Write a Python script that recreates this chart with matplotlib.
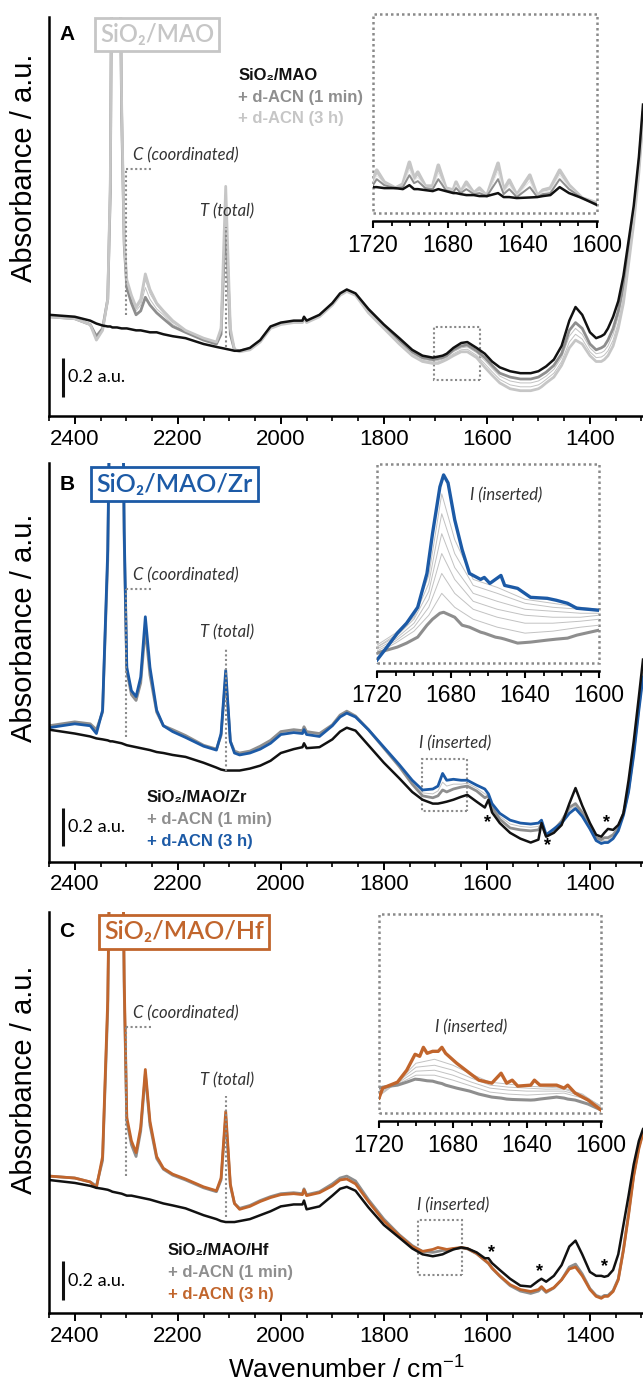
import matplotlib
matplotlib.use('Agg')
import matplotlib.pyplot as plt
from matplotlib.patches import Rectangle
from matplotlib.ticker import MultipleLocator

plt.rcParams['font.family'] = ['Liberation Sans', 'DejaVu Sans']
plt.rcParams['mathtext.default'] = 'regular'

# ---- main spectra: shared wavenumber grid (cm-1) ----
WN = [2450, 2400, 2370, 2358, 2346, 2336, 2331, 2327, 2318, 2309,
      2304, 2299, 2290, 2281, 2272, 2263, 2254, 2241, 2228, 2210,
      2185, 2150, 2125, 2116, 2107, 2098, 2090, 2080, 2060, 2040,
      2020, 2000, 1975, 1958, 1955, 1950, 1925, 1900, 1885, 1872,
      1855, 1830, 1800, 1770, 1745, 1725, 1705, 1695, 1686, 1678,
      1665, 1650, 1638, 1620, 1604, 1597, 1590, 1575, 1555, 1535,
      1515, 1500, 1494, 1485, 1470, 1455, 1440, 1428, 1415, 1400,
      1388, 1378, 1372, 1365, 1355, 1345, 1335, 1325, 1315, 1305, 1297]

# panel A: SiO2/MAO
A_SUPPORT = [0.52, 0.51, 0.49, 0.475, 0.465, 0.46, 0.46, 0.455, 0.455, 0.45,
             0.45, 0.45, 0.445, 0.44, 0.44, 0.435, 0.43, 0.43, 0.42, 0.41,
             0.40, 0.37, 0.355, 0.35, 0.345, 0.34, 0.335, 0.335, 0.35, 0.39,
             0.46, 0.48, 0.49, 0.49, 0.51, 0.49, 0.52, 0.58, 0.63, 0.65,
             0.63, 0.55, 0.47, 0.40, 0.34, 0.31, 0.30, 0.305, 0.31, 0.32,
             0.35, 0.375, 0.38, 0.35, 0.32, 0.30, 0.28, 0.25, 0.23, 0.22,
             0.22, 0.23, 0.24, 0.255, 0.29, 0.36, 0.49, 0.56, 0.52, 0.43,
             0.40, 0.41, 0.42, 0.45, 0.51, 0.59, 0.72, 0.90, 1.08, 1.33, 1.60]
A_1MIN = [0.51, 0.50, 0.47, 0.41, 0.45, 0.60, 1.15, 2.90, 3.90, 1.55,
          0.88, 0.66, 0.58, 0.52, 0.54, 0.61, 0.57, 0.53, 0.50, 0.46,
          0.43, 0.39, 0.37, 0.42, 1.02, 0.42, 0.34, 0.335, 0.345, 0.385,
          0.455, 0.475, 0.485, 0.485, 0.505, 0.485, 0.515, 0.575, 0.625, 0.645,
          0.625, 0.545, 0.465, 0.39, 0.33, 0.30, 0.29, 0.295, 0.30, 0.31,
          0.34, 0.36, 0.365, 0.335, 0.30, 0.28, 0.26, 0.22, 0.20, 0.19,
          0.19, 0.20, 0.21, 0.225, 0.26, 0.32, 0.44, 0.48, 0.45, 0.37,
          0.34, 0.35, 0.36, 0.39, 0.45, 0.54, 0.67, 0.86, 1.04, 1.29, 1.56]
A_MID1 = [0.51, 0.50, 0.47, 0.40, 0.445, 0.60, 1.17, 2.95, 3.95, 1.57,
          0.89, 0.68, 0.60, 0.54, 0.57, 0.66, 0.60, 0.55, 0.52, 0.47,
          0.435, 0.395, 0.375, 0.43, 1.10, 0.43, 0.34, 0.333, 0.343, 0.383,
          0.452, 0.472, 0.482, 0.482, 0.502, 0.482, 0.512, 0.572, 0.622, 0.642,
          0.622, 0.54, 0.46, 0.385, 0.322, 0.292, 0.282, 0.285, 0.292, 0.302,
          0.33, 0.35, 0.355, 0.325, 0.285, 0.265, 0.245, 0.205, 0.18, 0.17,
          0.17, 0.18, 0.19, 0.205, 0.24, 0.30, 0.41, 0.45, 0.42, 0.35,
          0.32, 0.325, 0.335, 0.36, 0.42, 0.51, 0.64, 0.83, 1.02, 1.27, 1.55]
A_MID2 = [0.51, 0.50, 0.47, 0.39, 0.44, 0.60, 1.18, 2.98, 3.98, 1.58,
          0.90, 0.69, 0.61, 0.55, 0.585, 0.70, 0.63, 0.57, 0.53, 0.48,
          0.44, 0.40, 0.38, 0.44, 1.15, 0.44, 0.34, 0.332, 0.341, 0.381,
          0.451, 0.471, 0.481, 0.481, 0.501, 0.481, 0.511, 0.571, 0.621, 0.641,
          0.621, 0.535, 0.455, 0.378, 0.316, 0.286, 0.276, 0.278, 0.286, 0.296,
          0.32, 0.34, 0.343, 0.312, 0.268, 0.248, 0.228, 0.188, 0.16, 0.15,
          0.15, 0.16, 0.17, 0.188, 0.22, 0.28, 0.38, 0.42, 0.395, 0.33,
          0.30, 0.303, 0.313, 0.335, 0.39, 0.48, 0.61, 0.80, 1.01, 1.26, 1.54]
A_3H = [0.51, 0.50, 0.47, 0.39, 0.44, 0.60, 1.20, 3.00, 4.00, 1.60,
        0.90, 0.70, 0.62, 0.56, 0.60, 0.73, 0.65, 0.58, 0.54, 0.49,
        0.44, 0.40, 0.38, 0.45, 1.18, 0.45, 0.34, 0.33, 0.34, 0.38,
        0.45, 0.47, 0.48, 0.48, 0.50, 0.48, 0.51, 0.57, 0.62, 0.64,
        0.62, 0.53, 0.45, 0.37, 0.31, 0.28, 0.27, 0.27, 0.28, 0.29,
        0.31, 0.33, 0.33, 0.30, 0.25, 0.23, 0.21, 0.17, 0.14, 0.13,
        0.13, 0.14, 0.15, 0.17, 0.20, 0.26, 0.35, 0.39, 0.37, 0.31,
        0.28, 0.28, 0.29, 0.31, 0.36, 0.45, 0.58, 0.78, 0.99, 1.25, 1.52]

# panel B: SiO2/MAO/Zr
B_SUPPORT = [0.68, 0.66, 0.645, 0.635, 0.63, 0.625, 0.62, 0.62, 0.615, 0.61,
             0.605, 0.60, 0.595, 0.59, 0.585, 0.58, 0.575, 0.565, 0.56, 0.55,
             0.54, 0.51, 0.485, 0.475, 0.47, 0.47, 0.47, 0.47, 0.48, 0.495,
             0.52, 0.56, 0.58, 0.59, 0.61, 0.585, 0.59, 0.63, 0.67, 0.69,
             0.675, 0.60, 0.51, 0.43, 0.36, 0.32, 0.30, 0.30, 0.305, 0.31,
             0.32, 0.335, 0.345, 0.31, 0.28, 0.32, 0.255, 0.20, 0.15, 0.12,
             0.10, 0.115, 0.20, 0.13, 0.15, 0.19, 0.30, 0.38, 0.29, 0.20,
             0.14, 0.13, 0.15, 0.17, 0.165, 0.19, 0.25, 0.42, 0.62, 0.85, 1.04]
B_1MIN = [0.70, 0.72, 0.71, 0.68, 0.77, 1.55, 2.55, 3.45, 4.90, 2.95,
          1.65, 0.98, 0.86, 0.83, 0.92, 1.20, 0.96, 0.77, 0.70, 0.68,
          0.65, 0.60, 0.58, 0.65, 0.95, 0.62, 0.57, 0.56, 0.57, 0.595,
          0.625, 0.67, 0.68, 0.675, 0.695, 0.67, 0.66, 0.705, 0.755, 0.775,
          0.75, 0.68, 0.585, 0.49, 0.40, 0.34, 0.33, 0.34, 0.37, 0.36,
          0.375, 0.385, 0.39, 0.365, 0.33, 0.34, 0.28, 0.22, 0.175, 0.165,
          0.16, 0.165, 0.19, 0.135, 0.165, 0.21, 0.28, 0.30, 0.255, 0.18,
          0.125, 0.115, 0.125, 0.125, 0.14, 0.175, 0.25, 0.37, 0.57, 0.80, 0.97]
B_MID = [0.695, 0.715, 0.705, 0.67, 0.775, 1.57, 2.57, 3.47, 4.95, 2.97,
         1.67, 0.99, 0.87, 0.84, 0.935, 1.23, 0.98, 0.775, 0.70, 0.675,
         0.645, 0.598, 0.578, 0.655, 0.97, 0.62, 0.565, 0.555, 0.565, 0.588,
         0.618, 0.663, 0.673, 0.668, 0.688, 0.663, 0.655, 0.698, 0.75, 0.77,
         0.748, 0.68, 0.588, 0.495, 0.41, 0.355, 0.35, 0.365, 0.41, 0.39,
         0.40, 0.40, 0.405, 0.38, 0.35, 0.345, 0.29, 0.235, 0.195, 0.183,
         0.178, 0.183, 0.20, 0.138, 0.168, 0.205, 0.265, 0.288, 0.245, 0.175,
         0.118, 0.105, 0.112, 0.112, 0.13, 0.168, 0.245, 0.365, 0.56, 0.79, 0.96]
B_3H = [0.69, 0.71, 0.70, 0.66, 0.78, 1.60, 2.60, 3.50, 5.00, 3.00,
        1.70, 1.00, 0.88, 0.85, 0.95, 1.26, 1.00, 0.78, 0.70, 0.67,
        0.64, 0.595, 0.575, 0.66, 0.985, 0.62, 0.56, 0.55, 0.56, 0.58,
        0.61, 0.655, 0.665, 0.66, 0.68, 0.655, 0.645, 0.70, 0.745, 0.765,
        0.745, 0.68, 0.59, 0.50, 0.42, 0.37, 0.375, 0.39, 0.455, 0.42,
        0.425, 0.42, 0.42, 0.395, 0.375, 0.35, 0.30, 0.25, 0.215, 0.20,
        0.195, 0.20, 0.215, 0.14, 0.17, 0.20, 0.25, 0.275, 0.235, 0.17,
        0.11, 0.095, 0.10, 0.10, 0.12, 0.16, 0.24, 0.36, 0.55, 0.78, 0.95]

# panel C: SiO2/MAO/Hf
C_SUPPORT = [0.68, 0.665, 0.65, 0.64, 0.635, 0.63, 0.625, 0.62, 0.615, 0.61,
             0.605, 0.60, 0.60, 0.595, 0.59, 0.585, 0.58, 0.57, 0.56, 0.55,
             0.535, 0.50, 0.48, 0.47, 0.465, 0.465, 0.465, 0.47, 0.48, 0.50,
             0.52, 0.545, 0.555, 0.555, 0.575, 0.53, 0.545, 0.60, 0.635, 0.645,
             0.625, 0.54, 0.45, 0.385, 0.33, 0.30, 0.29, 0.295, 0.30, 0.31,
             0.325, 0.335, 0.33, 0.31, 0.28, 0.28, 0.255, 0.22, 0.175, 0.14,
             0.135, 0.165, 0.175, 0.16, 0.19, 0.245, 0.34, 0.37, 0.30, 0.21,
             0.19, 0.19, 0.185, 0.19, 0.22, 0.30, 0.45, 0.60, 0.76, 0.88, 0.94]
C_1MIN = [0.70, 0.69, 0.67, 0.65, 0.78, 1.55, 2.55, 3.45, 4.90, 2.95,
          1.65, 0.98, 0.86, 0.80, 0.93, 1.22, 0.96, 0.79, 0.735, 0.705,
          0.68, 0.64, 0.62, 0.68, 1.00, 0.65, 0.56, 0.535, 0.55, 0.575,
          0.595, 0.61, 0.615, 0.61, 0.635, 0.605, 0.62, 0.66, 0.69, 0.70,
          0.675, 0.58, 0.48, 0.40, 0.345, 0.315, 0.31, 0.315, 0.32, 0.32,
          0.328, 0.333, 0.328, 0.303, 0.268, 0.253, 0.228, 0.188, 0.14, 0.112,
          0.10, 0.112, 0.128, 0.105, 0.128, 0.17, 0.235, 0.25, 0.20, 0.125,
          0.09, 0.08, 0.09, 0.09, 0.115, 0.175, 0.325, 0.51, 0.71, 0.85, 0.925]
C_3H = [0.70, 0.69, 0.67, 0.64, 0.80, 1.60, 2.60, 3.50, 5.00, 3.00,
        1.70, 1.00, 0.88, 0.82, 0.95, 1.245, 0.98, 0.80, 0.74, 0.71,
        0.685, 0.645, 0.625, 0.69, 1.03, 0.66, 0.56, 0.53, 0.545, 0.57,
        0.59, 0.605, 0.61, 0.605, 0.63, 0.60, 0.615, 0.65, 0.68, 0.685,
        0.66, 0.57, 0.47, 0.395, 0.34, 0.315, 0.325, 0.335, 0.33, 0.325,
        0.33, 0.335, 0.33, 0.305, 0.27, 0.255, 0.23, 0.19, 0.145, 0.12,
        0.11, 0.12, 0.135, 0.11, 0.13, 0.17, 0.225, 0.235, 0.19, 0.12,
        0.085, 0.075, 0.085, 0.085, 0.11, 0.17, 0.32, 0.50, 0.70, 0.84, 0.92]

# ---- insets (1720-1600 cm-1) ----
IA_WN = [1720, 1718, 1714, 1708, 1704, 1700.5, 1698, 1696, 1692, 1688,
         1685, 1681, 1677, 1675.5, 1673, 1670, 1666, 1663, 1659, 1653,
         1650, 1647, 1643, 1636, 1632, 1629, 1625, 1620, 1615, 1608, 1600]
IA_SUPPORT = [0.13, 0.13, 0.125, 0.125, 0.12, 0.14, 0.12, 0.12, 0.115, 0.11,
              0.12, 0.11, 0.10, 0.10, 0.095, 0.09, 0.09, 0.085, 0.085, 0.10,
              0.08, 0.08, 0.075, 0.078, 0.08, 0.085, 0.09, 0.13, 0.10, 0.075, 0.04]
IA_1MIN = [0.14, 0.17, 0.14, 0.125, 0.13, 0.19, 0.15, 0.16, 0.125, 0.12,
           0.17, 0.115, 0.105, 0.125, 0.10, 0.12, 0.095, 0.10, 0.085, 0.17,
           0.095, 0.12, 0.08, 0.13, 0.08, 0.095, 0.10, 0.17, 0.12, 0.075, 0.045]
IA_MID = [0.15, 0.19, 0.145, 0.125, 0.135, 0.22, 0.16, 0.18, 0.13, 0.125,
          0.20, 0.12, 0.11, 0.14, 0.10, 0.135, 0.097, 0.11, 0.085, 0.21,
          0.105, 0.14, 0.085, 0.16, 0.082, 0.105, 0.11, 0.19, 0.13, 0.075, 0.048]
IA_3H = [0.165, 0.215, 0.155, 0.125, 0.145, 0.255, 0.175, 0.205, 0.135, 0.135,
         0.24, 0.125, 0.115, 0.155, 0.105, 0.155, 0.10, 0.125, 0.085, 0.25,
         0.115, 0.165, 0.09, 0.19, 0.085, 0.115, 0.125, 0.215, 0.14, 0.075, 0.05]

IB_WN = [1720, 1714.6, 1709, 1704, 1698, 1693, 1690, 1686, 1684, 1681.6,
         1678, 1674, 1670, 1664, 1662, 1659, 1656, 1653, 1651, 1644,
         1637, 1628, 1623, 1617, 1612, 1600]
IB_1MIN = [0.05, 0.065, 0.08, 0.10, 0.13, 0.19, 0.22, 0.25, 0.255, 0.245,
           0.23, 0.19, 0.18, 0.155, 0.15, 0.14, 0.13, 0.125, 0.12, 0.10,
           0.105, 0.115, 0.12, 0.125, 0.14, 0.165]
IB_3H = [0.015, 0.08, 0.15, 0.20, 0.28, 0.45, 0.65, 0.885, 0.945, 0.905,
         0.72, 0.57, 0.45, 0.42, 0.43, 0.40, 0.42, 0.44, 0.39, 0.375,
         0.33, 0.325, 0.315, 0.30, 0.275, 0.265]
IB_MID_WN = [1720, 1710, 1700, 1692, 1685, 1678, 1668, 1655, 1640, 1625, 1610, 1600]
IB_MIDS = [
    [0.05, 0.10, 0.16, 0.24, 0.35, 0.28, 0.22, 0.18, 0.15, 0.16, 0.18, 0.19],
    [0.06, 0.11, 0.18, 0.28, 0.45, 0.35, 0.27, 0.23, 0.20, 0.20, 0.21, 0.22],
    [0.07, 0.12, 0.20, 0.32, 0.55, 0.42, 0.31, 0.27, 0.24, 0.23, 0.23, 0.24],
    [0.08, 0.13, 0.22, 0.36, 0.65, 0.48, 0.35, 0.31, 0.27, 0.26, 0.25, 0.25],
    [0.08, 0.14, 0.23, 0.40, 0.75, 0.55, 0.39, 0.35, 0.30, 0.28, 0.27, 0.26],
    [0.09, 0.15, 0.24, 0.44, 0.85, 0.62, 0.42, 0.38, 0.32, 0.30, 0.28, 0.27],
]

IC_WN = [1720, 1718, 1710, 1705, 1700.5, 1698, 1696, 1694, 1691, 1688,
         1686, 1684, 1678, 1671, 1666, 1659, 1654, 1651, 1648, 1645,
         1638, 1636, 1633, 1624, 1620, 1618, 1614, 1607, 1600]
IC_1MIN = [0.125, 0.13, 0.14, 0.155, 0.17, 0.168, 0.165, 0.162, 0.16, 0.152,
           0.148, 0.14, 0.125, 0.11, 0.095, 0.08, 0.075, 0.07, 0.068, 0.067,
           0.065, 0.066, 0.07, 0.08, 0.075, 0.07, 0.065, 0.045, 0.015]
IC_3H = [0.075, 0.125, 0.155, 0.215, 0.295, 0.285, 0.33, 0.30, 0.31, 0.31,
         0.33, 0.30, 0.25, 0.20, 0.165, 0.15, 0.20, 0.15, 0.165, 0.135,
         0.14, 0.165, 0.14, 0.14, 0.125, 0.14, 0.10, 0.065, 0.015]
IC_MID_WN = [1720, 1710, 1700, 1690, 1680, 1670, 1660, 1650, 1640, 1630, 1620, 1610, 1600]
IC_MIDS = [
    [0.11, 0.145, 0.19, 0.19, 0.165, 0.135, 0.105, 0.095, 0.09, 0.095, 0.10, 0.075, 0.03],
    [0.10, 0.15, 0.21, 0.215, 0.19, 0.155, 0.125, 0.115, 0.11, 0.11, 0.11, 0.085, 0.035],
    [0.09, 0.155, 0.23, 0.24, 0.215, 0.175, 0.14, 0.13, 0.125, 0.12, 0.12, 0.09, 0.035],
    [0.085, 0.155, 0.25, 0.27, 0.24, 0.195, 0.155, 0.145, 0.135, 0.13, 0.125, 0.095, 0.03],
]

INSET_TICKS = [1720, 1680, 1640, 1600]
LEGEND_LINES = ['+ d-ACN (1 min)', '+ d-ACN (3 h)']

# ---- styling ----
W, H = 643, 1385
BLACK = '#111111'
GRAY_1MIN = '#8e8e8e'
GRAY_LIGHT = '#c6c6c6'
GRAY_THIN = '#c2c2c2'
BLUE = '#1c5aa6'
ORANGE = '#c1652c'
DOT = '#8a8a8a'
DOTTED = (0, (1, 1.2))
ITALIC = ['Lato', 'DejaVu Sans']


def px_rect(x0, y0, x1, y1):
    """Figure-fraction rect from pixel box (top-left origin)."""
    return [x0 / W, 1 - y1 / H, (x1 - x0) / W, (y1 - y0) / H]


def style_main(ax):
    ax.set_xlim(2450, 1297)
    ax.set_ylim(0, 2.05)
    ax.set_yticks([])
    for side in ('top', 'right'):
        ax.spines[side].set_visible(False)
    for side in ('left', 'bottom'):
        ax.spines[side].set_linewidth(1.8)
    ax.xaxis.set_major_locator(MultipleLocator(200))
    ax.xaxis.set_minor_locator(MultipleLocator(50))
    ax.tick_params(axis='x', which='major', direction='out', length=6,
                   width=1.4, labelsize=16, pad=3)
    ax.tick_params(axis='x', which='minor', direction='out', length=3.5,
                   width=1.2)
    ax.patch.set_alpha(0)


def draw_main(ax, support, one_min, three_h, mids, col3h):
    for m in mids:
        ax.plot(WN, m, color=GRAY_THIN, lw=0.7)
    ax.plot(WN, one_min, color=GRAY_1MIN, lw=2.0)
    ax.plot(WN, three_h, color=col3h, lw=2.0)
    ax.plot(WN, support, color=BLACK, lw=1.8)


def annotate(ax, c_y, c_low, t_y, t_low):
    """C (coordinated) and T (total) markers."""
    ax.plot([2301, 2301], [c_low, c_y], color=DOT, lw=1.5, ls=DOTTED)
    ax.plot([2301, 2252], [c_y, c_y], color=DOT, lw=1.5, ls=DOTTED)
    ax.text(2185, c_y + 0.07, 'C (coordinated)', style='italic', family=ITALIC,
            fontsize=12, color='#333333', ha='center', va='center')
    ax.plot([2107, 2107], [t_low, t_y], color=DOT, lw=1.5, ls=DOTTED)
    ax.text(2105, t_y + 0.08, 'T (total)', style='italic', family=ITALIC,
            fontsize=12, color='#333333', ha='center', va='center')


def header(ax, letter, name, col, cx, y, size):
    ax.text(2415, y, letter, fontsize=15, fontweight='bold', ha='center',
            va='center')
    ax.text(cx, y, name, fontsize=size, color=col, ha='center', va='center',
            family=['Lato', 'DejaVu Sans'], fontweight='semibold', zorder=10,
            bbox=dict(boxstyle='square,pad=0.22', fc='white', ec=col, lw=2.0))


def legend(ax, x, y0, name, col3h):
    cols = [BLACK, GRAY_1MIN, col3h]
    for i, (txt, c) in enumerate(zip([name] + LEGEND_LINES, cols)):
        ax.text(x, y0 - i * 0.112, txt, color=c, fontsize=12, fontweight='bold',
                ha='left', va='center')


def scale_bar(ax, y0):
    ax.plot([2423, 2423], [y0, y0 + 0.2], color=BLACK, lw=2.2,
            solid_capstyle='butt')
    ax.text(2414, y0 + 0.1, '0.2 a.u.', fontsize=13, family=ITALIC,
            ha='left', va='center')


def inserted_box(ax, x0, x1, y0, y1, label_x, label_y):
    ax.add_patch(Rectangle((x1, y0), x0 - x1, y1 - y0, fill=False, ec=DOT,
                           lw=1.5, ls=DOTTED))
    if label_y is not None:
        ax.text(label_x, label_y, 'I (inserted)', style='italic',
                family=ITALIC, fontsize=12, color='#333333', ha='center',
                va='center')


def make_inset(fig, rect):
    ins = fig.add_axes(rect)
    ins.set_xlim(1720, 1600)
    ins.set_ylim(0, 1)
    ins.set_yticks([])
    for side in ('top', 'right', 'left'):
        ins.spines[side].set_visible(False)
    ins.spines['bottom'].set_position(('outward', 6))
    ins.spines['bottom'].set_linewidth(1.8)
    ins.set_xticks(INSET_TICKS)
    ins.xaxis.set_minor_locator(MultipleLocator(10))
    ins.tick_params(axis='x', which='major', direction='out', length=5,
                    width=1.5, labelsize=16.5, pad=4)
    ins.tick_params(axis='x', which='minor', direction='out', length=3.5,
                    width=1.3)
    ins.add_patch(Rectangle((0, 0), 1, 1, transform=ins.transAxes, fill=False,
                            ec=DOT, lw=1.8, ls=DOTTED, clip_on=False))
    ins.patch.set_alpha(0)
    return ins


fig = plt.figure(figsize=(W / 100, H / 100), dpi=100)

# ---------------- panel A ----------------
axA = fig.add_axes(px_rect(49, 17, 643, 416))
style_main(axA)
draw_main(axA, A_SUPPORT, A_1MIN, A_3H, [A_MID1, A_MID2], GRAY_LIGHT)
annotate(axA, 1.27, 0.52, 0.97, 0.355)
header(axA, 'A', 'SiO₂/MAO', GRAY_LIGHT, 2240, 1.96, 17)
legend(axA, 2083, 1.75, 'SiO₂/MAO', GRAY_LIGHT)
scale_bar(axA, 0.10)
inserted_box(axA, 1702, 1614, 0.185, 0.455, None, None)

insA = make_inset(fig, px_rect(373, 14, 597, 213))
insA.plot(IA_WN, IA_3H, color=GRAY_LIGHT, lw=2.6)
insA.plot(IA_WN, IA_MID, color='#e6e6e6', lw=0.7)
insA.plot(IA_WN, IA_1MIN, color=GRAY_1MIN, lw=1.4)
insA.plot(IA_WN, IA_SUPPORT, color=BLACK, lw=1.8)

# ---------------- panel B ----------------
axB = fig.add_axes(px_rect(49, 463, 643, 862))
style_main(axB)
draw_main(axB, B_SUPPORT, B_1MIN, B_3H, [B_MID], BLUE)
annotate(axB, 1.405, 0.64, 1.10, 0.47)
header(axB, 'B', 'SiO₂/MAO/Zr', BLUE, 2206, 1.94, 18)
legend(axB, 2260, 0.33, 'SiO₂/MAO/Zr', BLUE)
scale_bar(axB, 0.08)
inserted_box(axB, 1726, 1639, 0.26, 0.53, 1662, 0.61)
for x, y in [(1598, 0.205), (1482, 0.085), (1367, 0.205)]:
    axB.text(x, y, '*', fontsize=13, fontweight='bold', ha='center',
             va='center')

insB = make_inset(fig, px_rect(377, 464, 599, 663))
for m in IB_MIDS:
    insB.plot(IB_MID_WN, m, color=GRAY_THIN, lw=0.7)
insB.plot(IB_WN, IB_1MIN, color=GRAY_1MIN, lw=2.2)
insB.plot(IB_WN, IB_3H, color=BLUE, lw=2.4)
insB.text(1650, 0.84, 'I (inserted)', style='italic', family=ITALIC,
          fontsize=12, color='#333333', ha='center', va='center')

# ---------------- panel C ----------------
axC = fig.add_axes(px_rect(49, 912, 643, 1313))
style_main(axC)
draw_main(axC, C_SUPPORT, C_1MIN, C_3H, [], ORANGE)
annotate(axC, 1.46, 0.70, 1.11, 0.49)
header(axC, 'C', 'SiO₂/MAO/Hf', ORANGE, 2188, 1.95, 18)
legend(axC, 2219, 0.32, 'SiO₂/MAO/Hf', ORANGE)
scale_bar(axC, 0.065)
inserted_box(axC, 1734, 1649, 0.195, 0.475, 1666, 0.55)
for x, y in [(1592, 0.31), (1497, 0.21), (1372, 0.235)]:
    axC.text(x, y, '*', fontsize=13, fontweight='bold', ha='center',
             va='center')

insC = make_inset(fig, px_rect(379, 914, 601, 1113))
for m in IC_MIDS:
    insC.plot(IC_MID_WN, m, color=GRAY_THIN, lw=0.7)
insC.plot(IC_WN, IC_1MIN, color=GRAY_1MIN, lw=2.2)
insC.plot(IC_WN, IC_3H, color=ORANGE, lw=2.4)
insC.text(1670, 0.43, 'I (inserted)', style='italic', family=ITALIC,
          fontsize=12, color='#333333', ha='center', va='center')

# axis labels
for yc in (168, 628, 1080):
    fig.text(24 / W, 1 - yc / H, 'Absorbance / a.u.', rotation=90,
             fontsize=21, ha='center', va='center')
fig.text(346 / W, 1 - 1370 / H, 'Wavenumber / cm$^{-1}$', fontsize=19,
         ha='center', va='center')

fig.savefig('out.png', dpi=100, facecolor='white')
